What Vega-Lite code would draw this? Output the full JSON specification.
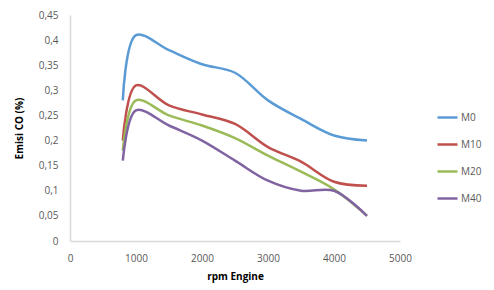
{
  "$schema": "https://vega.github.io/schema/vega-lite/v6.json",
  "width": 330,
  "height": 226,
  "autosize": {"type": "none"},
  "padding": {"left": 70, "top": 15, "right": 94, "bottom": 49},
  "background": "white",
  "config": {
    "view": {"stroke": null},
    "font": "Open Sans"
  },
  "data": {
    "values": [
      {"rpm": 800, "series": "M0", "co": 0.28},
      {"rpm": 1000, "series": "M0", "co": 0.41},
      {"rpm": 1500, "series": "M0", "co": 0.38},
      {"rpm": 2000, "series": "M0", "co": 0.352},
      {"rpm": 2500, "series": "M0", "co": 0.335},
      {"rpm": 3000, "series": "M0", "co": 0.28},
      {"rpm": 3500, "series": "M0", "co": 0.243},
      {"rpm": 4000, "series": "M0", "co": 0.21},
      {"rpm": 4500, "series": "M0", "co": 0.2},
      {"rpm": 800, "series": "M10", "co": 0.2},
      {"rpm": 1000, "series": "M10", "co": 0.31},
      {"rpm": 1500, "series": "M10", "co": 0.27},
      {"rpm": 2000, "series": "M10", "co": 0.252},
      {"rpm": 2500, "series": "M10", "co": 0.233},
      {"rpm": 3000, "series": "M10", "co": 0.187},
      {"rpm": 3500, "series": "M10", "co": 0.158},
      {"rpm": 4000, "series": "M10", "co": 0.118},
      {"rpm": 4500, "series": "M10", "co": 0.11},
      {"rpm": 800, "series": "M20", "co": 0.18},
      {"rpm": 1000, "series": "M20", "co": 0.28},
      {"rpm": 1500, "series": "M20", "co": 0.25},
      {"rpm": 2000, "series": "M20", "co": 0.23},
      {"rpm": 2500, "series": "M20", "co": 0.205},
      {"rpm": 3000, "series": "M20", "co": 0.17},
      {"rpm": 3500, "series": "M20", "co": 0.138},
      {"rpm": 4000, "series": "M20", "co": 0.103},
      {"rpm": 4500, "series": "M20", "co": 0.05},
      {"rpm": 800, "series": "M40", "co": 0.16},
      {"rpm": 1000, "series": "M40", "co": 0.26},
      {"rpm": 1500, "series": "M40", "co": 0.23},
      {"rpm": 2000, "series": "M40", "co": 0.2},
      {"rpm": 2500, "series": "M40", "co": 0.16},
      {"rpm": 3000, "series": "M40", "co": 0.12},
      {"rpm": 3500, "series": "M40", "co": 0.1},
      {"rpm": 4000, "series": "M40", "co": 0.1},
      {"rpm": 4500, "series": "M40", "co": 0.05}
    ]
  },
  "mark": {"type": "line", "interpolate": "catmull-rom", "strokeWidth": 2.5},
  "encoding": {
    "x": {
      "field": "rpm",
      "type": "quantitative",
      "scale": {"domain": [0, 5000], "nice": false},
      "axis": {
        "values": [0, 1000, 2000, 3000, 4000, 5000],
        "format": "d",
        "title": "rpm Engine",
        "titleFontSize": 10,
        "titleFontWeight": "bold",
        "titleColor": "#000000",
        "titlePadding": 8,
        "labelFontSize": 10,
        "labelColor": "#595959",
        "labelPadding": 12,
        "ticks": false,
        "grid": false,
        "domainColor": "#d9d9d9",
        "domainWidth": 1.5,
        "labelFlush": false
      }
    },
    "y": {
      "field": "co",
      "type": "quantitative",
      "scale": {"domain": [0, 0.45], "nice": false},
      "axis": {
        "values": [0, 0.05, 0.1, 0.15, 0.2, 0.25, 0.3, 0.35, 0.4, 0.45],
        "format": "~g",
        "labelExpr": "replace(datum.label, '.', ',')",
        "title": "Emisi CO (%)",
        "titleFontSize": 10,
        "titleFontWeight": "bold",
        "titleColor": "#000000",
        "titlePadding": 14,
        "labelFontSize": 10,
        "labelColor": "#595959",
        "labelPadding": 12,
        "ticks": false,
        "grid": false,
        "domainColor": "#d9d9d9",
        "domainWidth": 1.5,
        "labelFlush": false
      }
    },
    "color": {
      "field": "series",
      "type": "nominal",
      "scale": {
        "domain": ["M0", "M10", "M20", "M40"],
        "range": ["#5B9BD5", "#C0504D", "#9BBB59", "#8064A2"]
      },
      "legend": {
        "title": null,
        "orient": "none",
        "legendX": 366,
        "legendY": 91,
        "symbolType": "stroke",
        "symbolStrokeWidth": 2.5,
        "symbolSize": 400,
        "labelFontSize": 10,
        "labelColor": "#595959",
        "labelOffset": 2,
        "rowPadding": 10
      }
    }
  }
}
